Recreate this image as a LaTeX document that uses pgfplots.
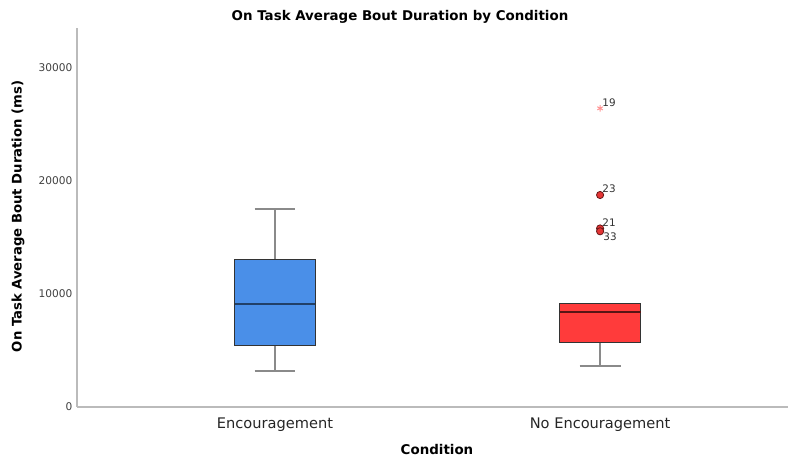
\documentclass[border=0pt]{standalone}
\usepackage{pgfplots}
\pgfplotsset{compat=1.18}
\usepackage{fontspec}
\setmainfont{DejaVu Sans}
\definecolor{boxblue}{HTML}{4A8FE8}
\definecolor{boxred}{HTML}{FF3B3B}
\definecolor{axgray}{HTML}{BBBBBB}
\definecolor{whisk}{HTML}{8A8A8A}
\definecolor{edge}{HTML}{333333}
\begin{document}
\begin{tikzpicture}
\path[use as bounding box] (0pt,0pt) rectangle (394pt,230pt);
\begin{axis}[
  at={(38.5pt,26.5pt)}, anchor=south west, scale only axis,
  width=355.5pt, height=189.5pt,
  xmin=0.391, xmax=2.578, ymin=0, ymax=33540,
  axis lines*=left,
  axis line style={draw=axgray, line width=1pt},
  xtick={1,2}, xticklabels={Encouragement, No Encouragement},
  ytick={0,10000,20000,30000}, yticklabels={0,10000,20000,30000},
  major tick length=0pt,
  scaled y ticks=false,
  yticklabel style={font=\fontsize{5.3}{6}\selectfont, text=black!75, xshift=1.2pt},
  xticklabel style={font=\fontsize{7.3}{8}\selectfont, text=black!85, yshift=-2pt},
  unbounded coords=jump,
  clip=false,
]
% whiskers: Encouragement
\addplot[draw=whisk, line width=1pt] coordinates {
  (1,13070) (1,17522) (nan,nan) (0.937,17522) (1.063,17522) (nan,nan)
  (1,5460) (1,3186) (nan,nan) (0.937,3186) (1.063,3186)};
% whiskers: No Encouragement
\addplot[draw=whisk, line width=1pt] coordinates {
  (2,5726) (2,3628) (nan,nan) (1.937,3628) (2.063,3628)};
% boxes
\addplot[fill=boxblue, draw=edge, line width=0.6pt] coordinates {
  (0.8755,5460) (1.1245,5460) (1.1245,13070) (0.8755,13070)} -- cycle;
\addplot[fill=boxred, draw=edge, line width=0.6pt] coordinates {
  (1.8755,5726) (2.1245,5726) (2.1245,9142) (1.8755,9142)} -- cycle;
% medians
\addplot[draw=boxblue!45!black, line width=0.9pt] coordinates {(0.8755,9115) (1.1245,9115)};
\addplot[draw=boxred!35!black, line width=0.9pt] coordinates {(1.8755,8380) (2.1245,8380)};
% circle outliers
\addplot[only marks, mark=*, mark size=1.8pt, mark options={fill=boxred!90!black, draw=boxred!40!black, line width=0.4pt}]
  coordinates {(2,18760) (2,15800) (2,15550)};
% star outlier
\addplot[only marks, mark=asterisk, mark size=1.6pt, mark options={draw=boxred!55, line width=0.5pt}]
  coordinates {(2,26430)};
% labels
\addplot[only marks, mark=none, point meta=explicit symbolic,
  nodes near coords, nodes near coords style={font=\fontsize{5.2}{6}\selectfont, text=black!80, anchor=south west, inner sep=0pt, xshift=1pt, yshift=0.8pt}]
  coordinates {(2,26430) [19] (2,18760) [23] (2,15800) [21]};
\addplot[only marks, mark=none, point meta=explicit symbolic,
  nodes near coords, nodes near coords style={font=\fontsize{5.2}{6}\selectfont, text=black!80, anchor=north west, inner sep=0pt, xshift=1.5pt, yshift=-0.5pt}]
  coordinates {(2,15550) [33]};
\end{axis}
\node[font=\bfseries\fontsize{6.7}{8}\selectfont] at (200pt,221.5pt) {On Task Average Bout Duration by Condition};
\node[font=\bfseries\fontsize{6.6}{8}\selectfont, rotate=90] at (9pt,121.75pt) {On Task Average Bout Duration (ms)};
\node[font=\bfseries\fontsize{6.7}{8}\selectfont] at (218.5pt,5pt) {Condition};
\end{tikzpicture}
\end{document}
